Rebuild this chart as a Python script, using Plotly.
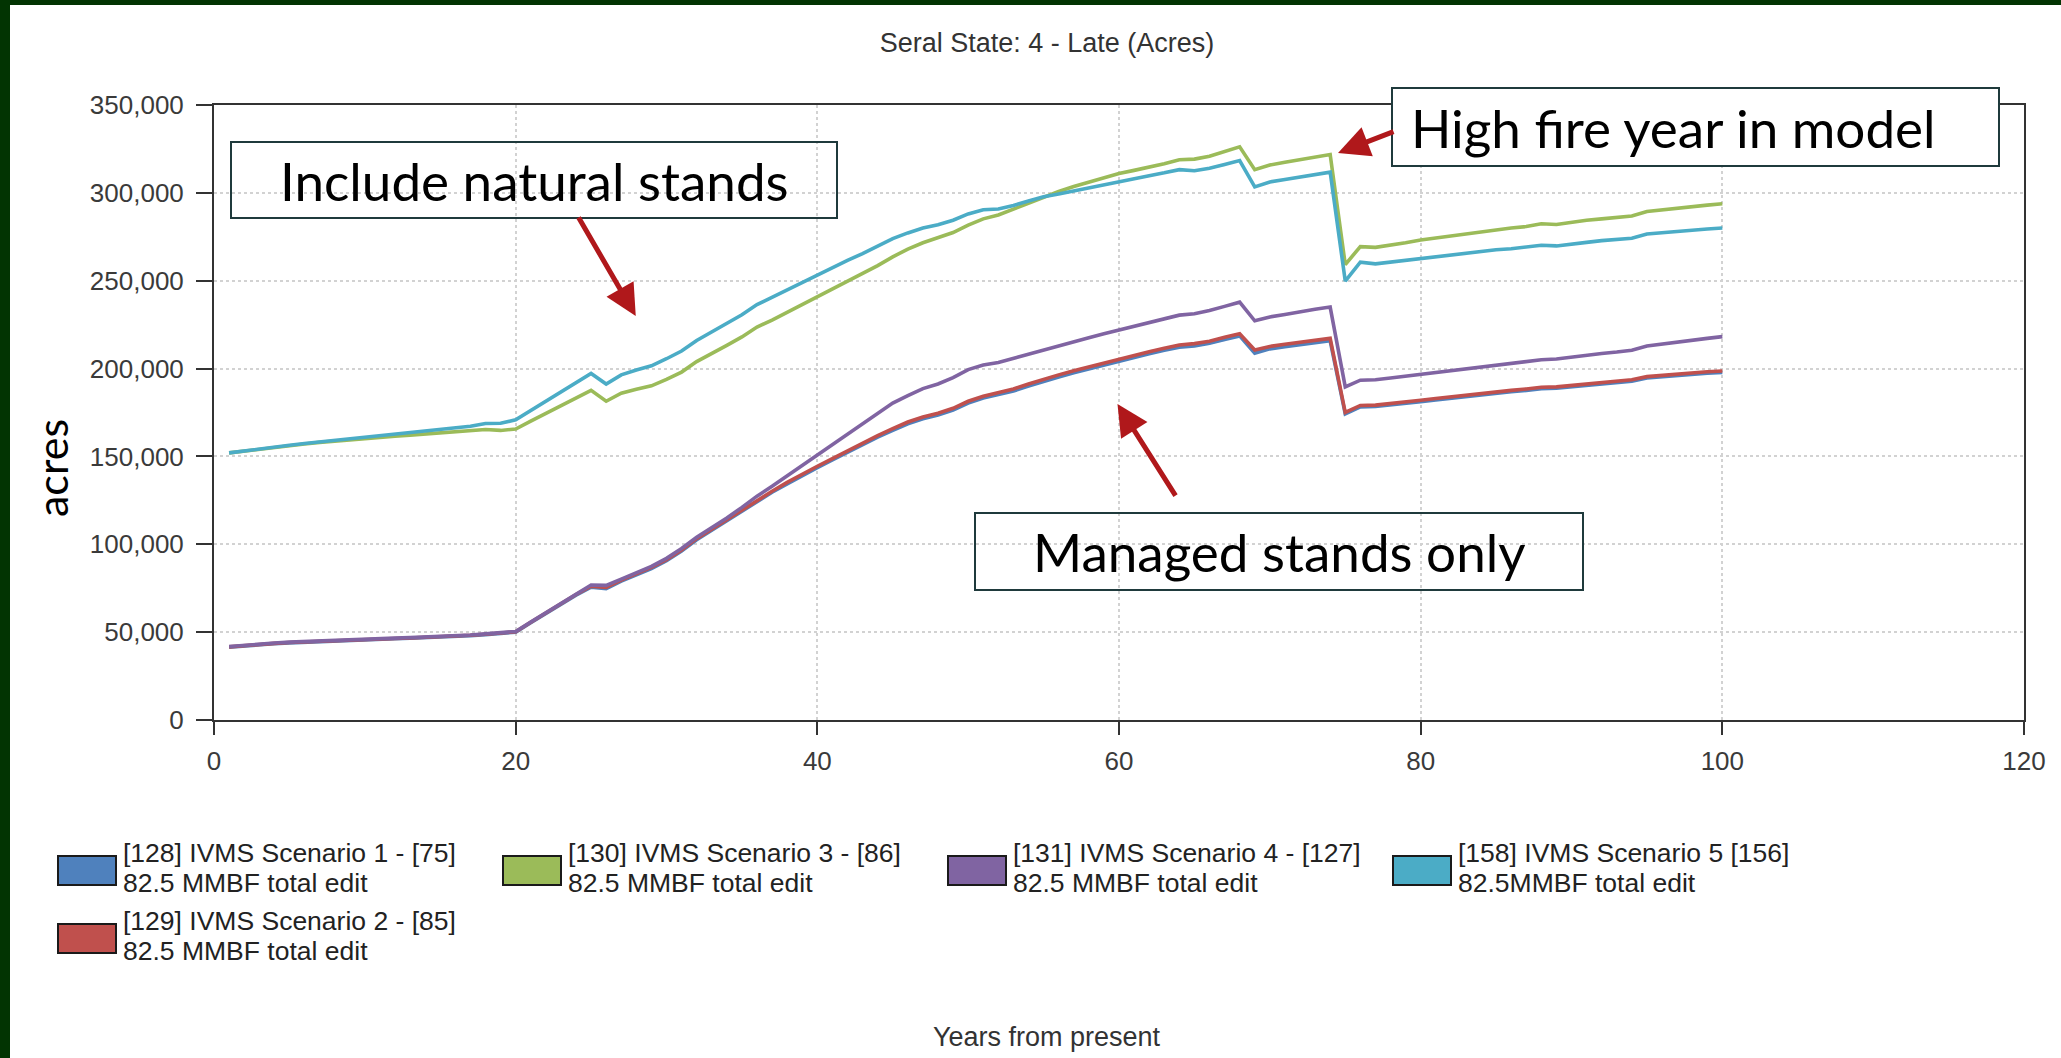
import plotly.graph_objects as go

# ---------------- data ----------------
years = list(range(1, 101))

s1_blue = [41400, 42200, 42900, 43400, 43900, 44300, 44600, 45000, 45300, 45600,
           45900, 46200, 46500, 46800, 47200, 47600, 48000, 48600, 49200, 50000,
           55300, 60600, 65800, 71000, 75600, 74800, 79000, 82600, 86200, 90600,
           96200, 102600, 108000, 113400, 119000, 124600, 129600, 134400, 139200, 143600,
           148000, 152400, 156800, 161000, 164800, 168600, 171400, 173600, 176400, 180400,
           183200, 185200, 187200, 190000, 192800, 195200, 197600, 199800, 202200, 204400,
           206400, 208400, 210400, 212200, 212800, 214400, 216600, 218600, 208800, 211200,
           212400, 213600, 214800, 215800, 174200, 178200, 178400, 179200, 180200, 181200,
           182200, 183200, 184000, 185000, 186000, 186800, 187600, 188600, 188800, 189600,
           190400, 191200, 192000, 192800, 194600, 195400, 196200, 196800, 197400, 197800]

s2_red = [41600, 42400, 43100, 43600, 44100, 44500, 44800, 45200, 45500, 45800,
          46100, 46400, 46700, 47000, 47400, 47800, 48200, 48800, 49400, 50200,
          55600, 61000, 66200, 71400, 76200, 75400, 79600, 83200, 86800, 91200,
          96800, 103200, 108600, 114000, 119600, 125200, 130200, 135200, 140000, 144400,
          148800, 153200, 157600, 161800, 165800, 169600, 172400, 174600, 177400, 181400,
          184200, 186400, 188400, 191200, 194000, 196400, 198800, 201000, 203400, 205600,
          207600, 209600, 211600, 213400, 214200, 215600, 217800, 219800, 210600, 212600,
          213800, 215000, 216200, 217200, 175000, 179000, 179200, 180000, 181000, 182000,
          183000, 184000, 184800, 185800, 186800, 187600, 188400, 189400, 189600, 190400,
          191200, 192000, 192800, 193600, 195400, 196200, 197000, 197600, 198200, 198600]

s3_green = [152000, 153100, 154200, 155200, 156200, 157100, 158000, 158800, 159600, 160300,
            160900, 161500, 162100, 162700, 163300, 163900, 164500, 165300, 164800, 165600,
            170100, 174500, 178900, 183300, 187600, 181400, 186000, 188200, 190200, 193800,
            198000, 204000, 208400, 213200, 218000, 223600, 227600, 232000, 236400, 240800,
            245200, 249600, 254000, 258600, 263600, 268000, 271600, 274400, 277400, 281600,
            285200, 287400, 290800, 294400, 297800, 300800, 303600, 306000, 308600, 311000,
            312800, 314600, 316600, 318800, 319200, 320800, 323400, 326200, 313200, 315800,
            317400, 319000, 320500, 321800, 259200, 269400, 269000, 270200, 271600, 273200,
            274400, 275600, 276800, 278000, 279200, 280000, 280800, 282400, 282000, 283400,
            284400, 285200, 286000, 286800, 289400, 290400, 291200, 292000, 293000, 293800]

s4_purple = [41800, 42600, 43300, 43800, 44300, 44700, 45000, 45400, 45700, 46000,
             46300, 46600, 46900, 47200, 47600, 48000, 48400, 49000, 49600, 50400,
             55800, 61200, 66400, 71600, 76800, 76600, 80200, 83800, 87400, 92000,
             97600, 104000, 109400, 115000, 121000, 127400, 133000, 139000, 145000, 151000,
             157000, 163000, 169000, 174800, 180400, 184600, 188600, 191200, 194800, 199400,
             202000, 203400, 205800, 208400, 210800, 213200, 215400, 217600, 219800, 222000,
             224000, 226200, 228400, 230400, 231200, 233000, 235400, 237800, 227200, 229400,
             230800, 232400, 233800, 235000, 189600, 193400, 193600, 194600, 195600, 196600,
             197600, 198600, 199600, 200800, 201800, 202800, 203800, 205000, 205400, 206600,
             207600, 208600, 209400, 210400, 212800, 214000, 215000, 216200, 217200, 218200]

s5_teal = [152000, 153200, 154300, 155400, 156400, 157400, 158300, 159200, 160000, 160900,
           161700, 162500, 163400, 164300, 165200, 166200, 167200, 168700, 168900, 170800,
           176000, 181300, 186600, 191900, 197200, 191200, 196400, 199200, 201600, 205600,
           210000, 216000, 220800, 225600, 230600, 236400, 240600, 245000, 249400, 253600,
           257600, 261600, 265400, 269600, 274000, 277200, 280000, 281800, 284400, 288000,
           290400, 290800, 292800, 295400, 297800, 299400, 301200, 302800, 304800, 306600,
           308200, 309800, 311400, 313200, 312600, 314000, 316200, 318400, 303400, 306200,
           307600, 309000, 310400, 311800, 249800, 260600, 259600, 260600, 261800, 262800,
           263800, 264600, 265400, 266600, 267600, 268200, 269000, 270200, 269800, 271000,
           271800, 272800, 273400, 274200, 276600, 277400, 278000, 278800, 279400, 280000]

legend_line1 = ["[128] IVMS Scenario 1 - [75]", "[129] IVMS Scenario 2 - [85]",
                "[130] IVMS Scenario 3 - [86]", "[131] IVMS Scenario 4 - [127]",
                "[158] IVMS Scenario 5 [156]"]
legend_line2 = ["82.5 MMBF total edit", "82.5 MMBF total edit", "82.5 MMBF total edit",
                "82.5 MMBF total edit", "82.5MMBF total edit"]

x_ticks = [0, 20, 40, 60, 80, 100, 120]
y_ticks = [0, 50000, 100000, 150000, 200000, 250000, 300000, 350000]

title_text = "Seral State: 4 - Late (Acres)"
x_title = "Years from present"
y_title = "acres"
callouts = ["Include natural stands", "High fire year in model", "Managed stands only"]

# ---------------- styles / layout geometry ----------------
series = [s1_blue, s2_red, s3_green, s4_purple, s5_teal]
colors = ["#4F81BD", "#C0504D", "#9BBB59", "#8064A2", "#4BACC6"]
legend_slots = [(0, 0), (0, 1), (1, 0), (2, 0), (3, 0)]  # (column, row)

W, H = 2061, 1058
L, R, T, B = 214, 37, 105, 338
PW, PH = W - L - R, H - T - B
BOTTOM = H - B


def px(x):
    return (x - L) / PW


def py(y):
    return (BOTTOM - y) / PH


CHART_FONT = "Liberation Sans, Arial, sans-serif"
CALLOUT_FONT = "Century Gothic, Lato, sans-serif"

fig = go.Figure()
for vals, col, l1, l2 in zip(series, colors, legend_line1, legend_line2):
    fig.add_trace(go.Scatter(x=years, y=vals, mode="lines", name=l1 + " " + l2,
                             line=dict(color=col, width=3.6), showlegend=False))

shapes = [dict(type="rect", xref="paper", yref="paper", layer="below",
               x0=px(10), x1=px(W + 20), y0=py(H + 20), y1=py(5),
               fillcolor="white", line=dict(width=0))]
annotations = []

# manual legend (box swatches like the original chart)
for (c, r), col, l1, l2 in zip(legend_slots, colors, legend_line1, legend_line2):
    sx0 = 58 + c * 445
    sy0 = 856 + r * 68
    shapes.append(dict(type="rect", xref="paper", yref="paper",
                       x0=px(sx0), x1=px(sx0 + 58), y0=py(sy0 + 29), y1=py(sy0),
                       fillcolor=col, line=dict(color="#1a1a1a", width=2)))
    for txt, dy in ((l1, -3), (l2, 27)):
        annotations.append(dict(text=txt, xref="paper", yref="paper",
                                x=px(sx0 + 63), y=py(sy0 + dy), xanchor="left",
                                yanchor="middle", showarrow=False,
                                font=dict(family=CHART_FONT, size=26.5, color="#222")))

# call-out boxes (frames as shapes, texts as annotations)
box_fill = ["rgba(0,0,0,0)", "white", "rgba(0,0,0,0)"]
box_rects = [(231, 142, 837, 218), (1392, 88, 1999, 166), (975, 513, 1583, 590)]
text_centres = [(534, 180), (1673, 127), (1279, 551)]
for txt, fill, (x0, y0, x1, y1), (cx, cy) in zip(callouts, box_fill, box_rects, text_centres):
    shapes.append(dict(type="rect", xref="paper", yref="paper", layer="above",
                       x0=px(x0), x1=px(x1), y0=py(y1), y1=py(y0),
                       fillcolor=fill, line=dict(color="#1f3a3c", width=2)))
    annotations.append(dict(text=txt, xref="paper", yref="paper", x=px(cx), y=py(cy),
                            xanchor="center", yanchor="middle", showarrow=False,
                            font=dict(family=CALLOUT_FONT, size=53, color="#000")))

# arrows
for hx, hy, ax, ay in ((27.96, 229900, -58, -100), (74.52, 322700, 57, -22),
                       (59.9, 179800, 59, 93)):
    annotations.append(dict(text="", x=hx, y=hy, xref="x", yref="y", ax=ax, ay=ay,
                            axref="pixel", ayref="pixel", showarrow=True,
                            arrowhead=2, arrowsize=1.25, arrowwidth=5,
                            arrowcolor="#B0181B", standoff=0))

# axis titles
annotations.append(dict(text=x_title, xref="paper", yref="paper", x=px(1047), y=py(1037),
                        xanchor="center", yanchor="middle", showarrow=False,
                        font=dict(family=CHART_FONT, size=27, color="#333")))
annotations.append(dict(text=y_title, xref="paper", yref="paper", x=px(51), y=py(468),
                        xanchor="center", yanchor="middle", showarrow=False, textangle=-90,
                        font=dict(family=CALLOUT_FONT, size=43, color="#000")))

axis_common = dict(showgrid=True, gridcolor="#d2d2d2", griddash="dot", gridwidth=1.5,
                   showline=True, linecolor="#333333", linewidth=2, mirror=True,
                   ticks="outside", tickcolor="#333333", tickwidth=2, zeroline=False,
                   tickfont=dict(family=CHART_FONT, size=26, color="#3a3a3a"))

fig.update_layout(
    width=W, height=H,
    margin=dict(l=L, r=R, t=T, b=B, autoexpand=False),
    paper_bgcolor="#023402", plot_bgcolor="white",
    title=dict(text=title_text, x=1047 / W, xref="container", xanchor="center",
               y=1 - 43 / H, yref="container", yanchor="middle",
               font=dict(family=CHART_FONT, size=27, color="#333")),
    xaxis=dict(range=[0, 120], tickvals=x_ticks, ticklen=13, ticklabelstandoff=4,
               **axis_common),
    yaxis=dict(range=[0, 350000], tickvals=y_ticks, tickformat=",d", ticklen=16,
               ticklabelstandoff=7, **axis_common),
    shapes=shapes, annotations=annotations, showlegend=False,
)

fig.write_html("out.html", config={"displayModeBar": False},
               post_script="document.body.style.margin='0px';")
